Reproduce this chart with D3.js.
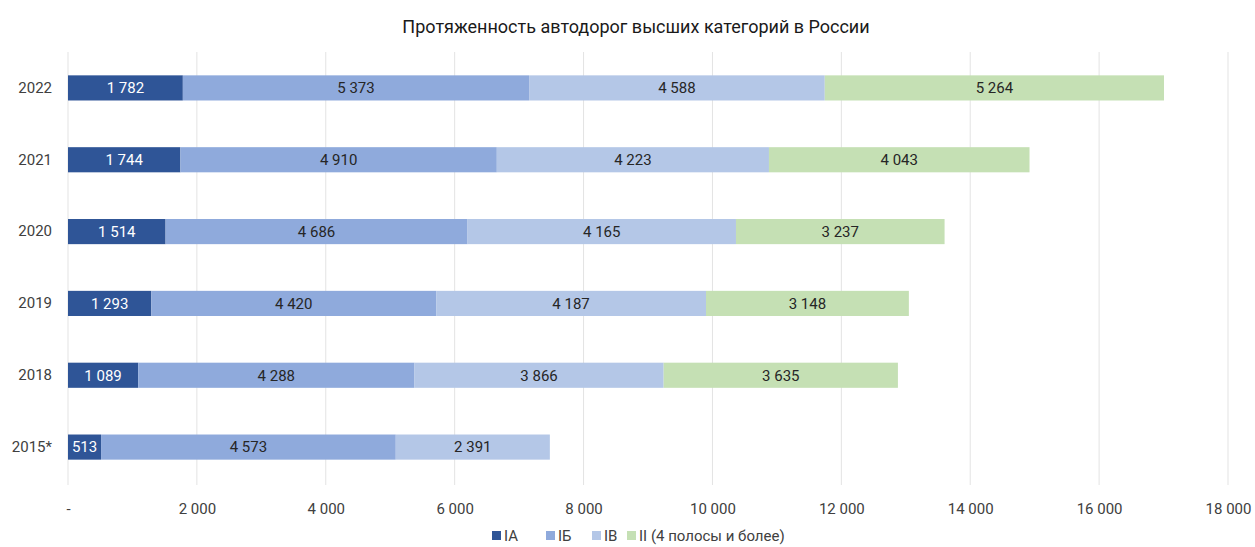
<!DOCTYPE html>
<html>
<head>
<meta charset="utf-8">
<script src="https://cdn.jsdelivr.net/npm/d3@7"></script>
<style>
  body { margin: 0; background: #fff; }
  svg text { font-family: "Liberation Sans Narrow", "Roboto", "Liberation Sans", sans-serif; fill: #404040; }
</style>
</head>
<body>
<svg id="chart" width="1255" height="547"></svg>
<script>
// data
var years = ["2022", "2021", "2020", "2019", "2018", "2015*"];
var seriesNames = ["IA", "IБ", "IВ", "II (4 полосы и более)"];
var IA = [1782, 1744, 1514, 1293, 1089, 513];
var IB = [5373, 4910, 4686, 4420, 4288, 4573];
var IV = [4588, 4223, 4165, 4187, 3866, 2391];
var II = [5264, 4043, 3237, 3148, 3635, 0];
var xTicks = [0, 2000, 4000, 6000, 8000, 10000, 12000, 14000, 16000, 18000];
var colors = ["#2f5597", "#8faadc", "#b4c7e7", "#c5e0b4"];
var labelColors = ["#ffffff", "#262626", "#262626", "#262626"];

var rows = years.map(function (y, i) {
  return { year: y, IA: IA[i], IB: IB[i], IV: IV[i], II: II[i] };
});
var keys = ["IA", "IB", "IV", "II"];

var ru = d3.formatLocale({ decimal: ",", thousands: "\u00a0", grouping: [3], currency: ["", ""] });
var fmt = ru.format(",d");

var svg = d3.select("#chart");
var margin = { left: 68, right: 27, top: 52, bottom: 64 };

var x = d3.scaleLinear().domain([0, 18000]).range([margin.left, 1255 - margin.right]);
var y = d3.scaleBand().domain(years).range([margin.top, 547 - margin.bottom]).paddingInner(0.65).paddingOuter(0.325);

// title
svg.append("text")
  .attr("x", 636).attr("y", 33)
  .attr("text-anchor", "middle")
  .style("font-size", "18px")
  .style("fill", "#1a1a1a")
  .text("Протяженность автодорог высших категорий в России");

// grid
svg.append("g").selectAll("line")
  .data(xTicks)
  .enter().append("line")
  .attr("x1", function (d) { return x(d); })
  .attr("x2", function (d) { return x(d); })
  .attr("y1", margin.top)
  .attr("y2", 547 - margin.bottom + 2)
  .attr("stroke", "#e3e3e3")
  .attr("stroke-width", 1);

// x axis labels
var xAxis = d3.axisBottom(x)
  .tickValues(xTicks)
  .tickSize(0)
  .tickPadding(0)
  .tickFormat(function (d) { return d === 0 ? "-" : fmt(d); });
var gx = svg.append("g")
  .attr("transform", "translate(0," + 503 + ")")
  .call(xAxis);
gx.select(".domain").remove();
gx.selectAll("text").style("font-size", "15px").style("fill", "#404040");

// y labels
var yAxis = d3.axisLeft(y).tickSize(0).tickPadding(16);
var gy = svg.append("g")
  .attr("transform", "translate(" + margin.left + ",0)")
  .call(yAxis);
gy.select(".domain").remove();
gy.selectAll("text").style("font-size", "15px").style("fill", "#404040");

// stacked bars
var stacked = d3.stack().keys(keys)(rows);

var layer = svg.append("g").selectAll("g")
  .data(stacked)
  .enter().append("g")
  .attr("fill", function (d, i) { return colors[i]; });

layer.selectAll("rect")
  .data(function (d) { return d; })
  .enter().append("rect")
  .attr("x", function (d) { return x(d[0]); })
  .attr("y", function (d) { return y(d.data.year); })
  .attr("width", function (d) { return x(d[1]) - x(d[0]); })
  .attr("height", y.bandwidth());

layer.each(function (s, i) {
  d3.select(this).selectAll("text")
    .data(s.filter(function (d) { return d[1] - d[0] > 0; }))
    .enter().append("text")
    .attr("x", function (d) { return (x(d[0]) + x(d[1])) / 2; })
    .attr("y", function (d) { return y(d.data.year) + y.bandwidth() / 2; })
    .attr("dy", "0.36em")
    .attr("text-anchor", "middle")
    .style("font-size", "15px")
    .style("fill", labelColors[i])
    .text(function (d) { return fmt(d[1] - d[0]); });
});

// legend
var legendX = [492, 546, 592, 627];
var legend = svg.append("g").attr("transform", "translate(0,541)");
var li = legend.selectAll("g")
  .data(seriesNames)
  .enter().append("g")
  .attr("transform", function (d, i) { return "translate(" + legendX[i] + ",0)"; });
li.append("rect")
  .attr("x", 0).attr("y", -10)
  .attr("width", 9).attr("height", 9)
  .attr("fill", function (d, i) { return colors[i]; });
li.append("text")
  .attr("x", 12).attr("y", 0)
  .style("font-size", "15px")
  .text(function (d) { return d; });
</script>
</body>
</html>
